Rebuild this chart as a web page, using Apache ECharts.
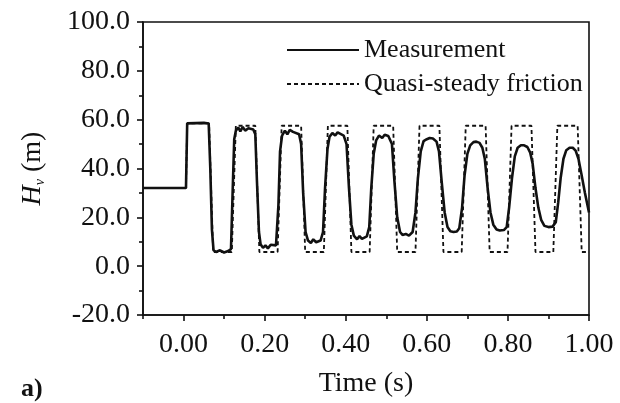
<!DOCTYPE html>
<html>
<head>
<meta charset="utf-8">
<script src="https://cdn.jsdelivr.net/npm/echarts@6/dist/echarts.min.js"></script>
<style>
html,body{margin:0;padding:0;background:#fff;}
#chart{width:620px;height:403px;}
</style>
</head>
<body>
<div id="chart"></div>
<script>
// ---- data ----
const seriesNames = ['Measurement', 'Quasi-steady friction'];

const measurementTime = [-0.1,0.006,0.009,0.012,0.03,0.05,0.062,0.066,0.070,0.074,0.08,0.09,0.1,0.11,0.117,
  0.121,0.125,0.129,0.135,0.14,0.146,0.152,0.16,0.172,0.177,
  0.181,0.186,0.19,0.196,0.202,0.208,0.215,0.228,
  0.234,0.238,0.243,0.25,0.256,0.262,0.27,0.285,0.29,
  0.295,0.301,0.307,0.314,0.32,0.327,0.338,0.344,
  0.349,0.355,0.36,0.367,0.374,0.38,0.395,0.402,
  0.408,0.414,0.42,0.428,0.434,0.44,0.452,0.458,
  0.463,0.469,0.475,0.482,0.49,0.496,0.505,0.514,
  0.52,0.527,0.534,0.54,0.548,0.556,0.565,
  0.572,0.578,0.585,0.592,0.6,0.607,0.615,0.624,0.63,
  0.637,0.644,0.651,0.658,0.666,0.674,0.68,
  0.687,0.693,0.7,0.707,0.715,0.722,0.73,0.737,0.743,
  0.75,0.757,0.764,0.772,0.78,0.79,0.797,
  0.803,0.81,0.817,0.824,0.832,0.84,0.848,0.855,0.861,
  0.868,0.875,0.882,0.89,0.9,0.91,0.918,
  0.924,0.93,0.937,0.944,0.952,0.96,0.967,0.974,0.981,0.99,1.0];
const measurementHead = [32,32,58.5,58.8,58.6,58.7,58.4,40,15,6.5,5.8,6.5,5.6,6.2,7,
  30,52,55.5,56.8,55.2,57,55.5,56.5,56,54,
  35,14,9,7.5,8.5,7.3,8.8,8.5,
  25,47,53.5,55.5,54,55.8,55,54,50,
  30,14,10.5,9.5,11,9.8,10.5,14,
  32,48,53,54.5,53.5,54.8,53.5,50,
  32,17,12.5,11,12.3,11.2,12.2,16,
  32,46,51.5,53.5,52.5,53.8,53.3,50,
  35,20,14,12.8,13.2,12.5,14,
  22,36,47,51.2,52,52.5,52.3,51,47,
  34,22,16,14.3,14,14.2,15.5,
  24,37,46,49.5,50.8,51,50.5,48.5,44,
  32,22,17,15,14.6,14.8,16,
  24,36,45,48.5,49.5,49.5,48.8,46.5,42,
  32,24,19,16.5,16,16.2,18,
  26,36,44,47.5,48.5,48.5,47.3,44,38,30,22];

const quasiTime = [-0.1,0.006,0.009,0.063,0.073,
  0.119,0.129,0.177,0.187,
  0.232,0.242,0.290,0.300,
  0.346,0.356,0.404,0.414,
  0.459,0.469,0.517,0.527,
  0.572,0.582,0.631,0.641,
  0.686,0.696,0.745,0.755,
  0.799,0.809,0.858,0.868,
  0.912,0.922,0.972,0.982,1.0];
const quasiHead = [32,32,58.5,58.5,5.8,
  5.8,57.5,57.5,5.8,
  5.8,57.5,57.5,5.8,
  5.8,57.5,57.5,5.8,
  5.8,57.5,57.5,5.8,
  5.8,57.5,57.5,5.8,
  5.8,57.5,57.5,5.8,
  5.8,57.5,57.5,5.8,
  5.8,57.5,57.5,5.8,5.8];

const xTicks = [0, 0.2, 0.4, 0.6, 0.8, 1.0];
const xMinorTicks = [-0.1, 0.1, 0.3, 0.5, 0.7, 0.9];
const yTicks = [-20, 0, 20, 40, 60, 80, 100];

// ---- chart ----
const zip = (a, b) => a.map((v, i) => [v, b[i]]);
const FONT = '"Liberation Serif", "Times New Roman", serif';
const chart = echarts.init(document.getElementById('chart'), null, {renderer: 'canvas'});

chart.setOption({
  backgroundColor: '#fff',
  animation: false,
  textStyle: {fontFamily: FONT, color: '#111'},
  grid: {left: 143, right: 31, top: 22, bottom: 88, show: true, borderColor: '#111', borderWidth: 1.6, backgroundColor: 'transparent'},
  legend: {
    show: true,
    orient: 'vertical', left: 281, top: 30, itemWidth: 72, itemHeight: 14, itemGap: 4,
    itemStyle: {opacity: 0},
    textStyle: {fontFamily: FONT, fontSize: 26, color: '#111', lineHeight: 30},
    data: seriesNames
  },
  xAxis: [{
    type: 'value', min: -0.1, max: 1.0, interval: 0.1,
    name: 'Time (s)', nameLocation: 'middle', nameGap: 55,
    nameTextStyle: {fontFamily: FONT, fontSize: 28, color: '#111'},
    axisLine: {show: true, onZero: false, lineStyle: {color: '#111', width: 1.6}},
    axisTick: {show: true, length: 6, customValues: xTicks, lineStyle: {color: '#111', width: 1.6}},
    axisLabel: {show: true, customValues: xTicks, margin: 16, fontFamily: FONT, fontSize: 28, color: '#111',
      formatter: v => v.toFixed(2)},
    splitLine: {show: false}
  }, {
    type: 'value', min: -0.1, max: 1.0, interval: 0.1, position: 'bottom',
    axisLine: {show: false, onZero: false},
    axisTick: {show: true, length: 4, customValues: xMinorTicks, lineStyle: {color: '#111', width: 1.6}},
    axisLabel: {show: false},
    splitLine: {show: false}
  }],
  yAxis: {
    type: 'value', min: -20, max: 100, interval: 20,
    name: '{i|H}{s|v} (m)', nameLocation: 'middle', nameGap: 96,
    nameTextStyle: {fontFamily: FONT, fontSize: 28, color: '#111',
      rich: {i: {fontFamily: FONT, fontSize: 28, fontStyle: 'italic', color: '#111'},
             s: {fontFamily: FONT, fontSize: 14, fontStyle: 'italic', color: '#111', padding: [14, 0, 0, 0]}}},
    axisLine: {show: true, onZero: false, lineStyle: {color: '#111', width: 1.6}},
    axisTick: {show: true, length: 6, lineStyle: {color: '#111', width: 1.6}},
    minorTick: {show: true, splitNumber: 2, length: 4, lineStyle: {color: '#111', width: 1.6}},
    axisLabel: {margin: 13, fontFamily: FONT, fontSize: 28, color: '#111', formatter: v => v.toFixed(1)},
    splitLine: {show: false}
  },
  graphic: [{
    type: 'text', left: 21, top: 376,
    style: {text: 'a)', font: 'bold 26px "Liberation Serif", serif', fill: '#111'}
  }],
  series: [{
    name: seriesNames[0], type: 'line', data: zip(measurementTime, measurementHead),
    symbol: 'none', xAxisIndex: 0, z: 3,
    lineStyle: {color: '#111', width: 2.6, type: 'solid'}, itemStyle: {color: '#111'}
  }, {
    name: seriesNames[1], type: 'line', data: zip(quasiTime, quasiHead),
    symbol: 'none', xAxisIndex: 0, z: 2,
    lineStyle: {color: '#111', width: 1.8, type: [4, 3]}, itemStyle: {color: '#111'}
  }]
});
</script>
</body>
</html>
